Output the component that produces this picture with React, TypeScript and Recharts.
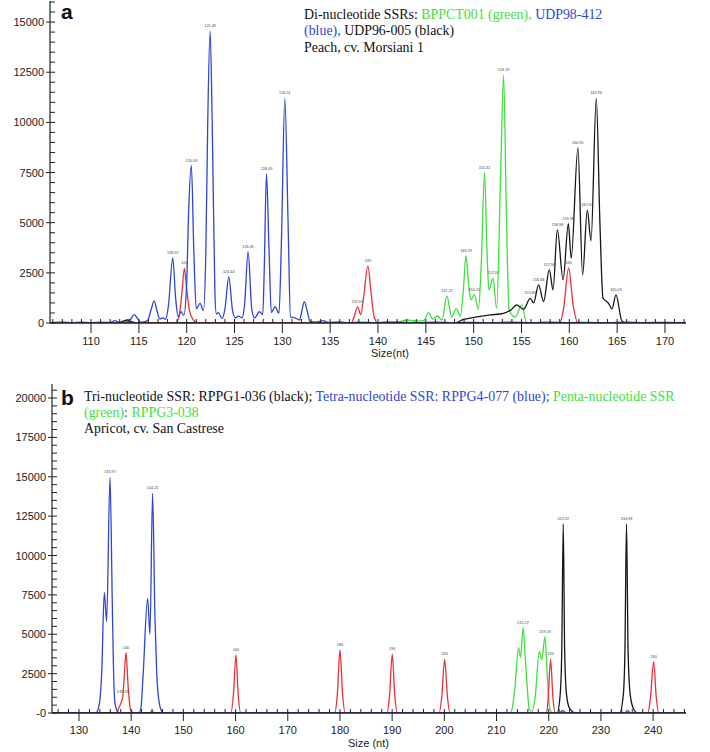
import React from "react";
import { LineChart, Line, XAxis, YAxis, LabelList } from "recharts";

type P = [number, number, string?];

// ---------- Panel a (Peach, cv. Morsiani 1) ----------
const blueA: P[] = [
  [105.8, 20], [107, 40], [108, 10], [109, 40], [110, 20], [111, 40], [112, 30], [112.5, 120], [113, 30],
  [113.8, 60], [114.1, 160], [114.5, 420], [114.9, 200], [115.2, 40], [115.9, 120], [116.3, 700],
  [116.6, 1100, ""], [116.9, 600], [117.2, 200], [117.5, 260], [117.8, 180], [118.1, 900],
  [118.54, 3250, "118.57"], [118.85, 1200], [119.1, 320], [119.4, 560], [119.7, 380], [120.0, 2000],
  [120.2, 5500], [120.49, 7850, "120.03"], [120.75, 3500], [121.0, 700], [121.4, 980], [121.75, 620],
  [122.0, 3500], [122.2, 10000], [122.45, 14550, "122.49"], [122.7, 9000], [122.95, 1500], [123.1, 450],
  [123.3, 520], [123.7, 220], [124.0, 700], [124.4, 2300, "124.44"], [124.8, 600], [125.1, 250],
  [125.4, 340], [125.8, 260], [126.05, 900], [126.42, 3560, "126.45"], [126.8, 700], [127.1, 250],
  [127.6, 560], [127.95, 420], [128.1, 2500], [128.34, 7450, "128.49"], [128.6, 3800], [128.85, 520],
  [129.25, 820], [129.65, 480], [129.9, 4000], [130.26, 11200, "130.51"], [130.6, 5000], [130.85, 300],
  [131.3, 260], [131.8, 150], [132.0, 500], [132.3, 1070], [132.6, 600], [132.9, 80], [133.5, 40],
  [134.3, 120], [134.8, 30], [136, 50], [137, 10], [138, 40], [140, 20], [142, 40], [144, 20], [146, 40],
  [148, 20], [150, 30], [152, 10], [154, 40], [156, 20], [158, 40], [160, 20], [162, 30], [164, 10],
  [166, 40], [168, 20], [170, 30], [172.2, 20],
];

const redA: P[] = [
  [105.8, 0], [118.8, 0], [119.2, 300], [119.5, 1500], [119.76, 2730, "120"], [120.0, 1700], [120.3, 600],
  [120.7, 150], [121.2, 0], [137.2, 0], [137.5, 300], [137.86, 800, "137.61"], [138.2, 420], [138.5, 1300],
  [138.94, 2850, "139"], [139.3, 1400], [139.6, 300], [140.0, 0], [159.0, 0], [159.4, 700],
  [159.93, 2730, "160"], [160.4, 900], [160.9, 0], [172.2, 0],
];

const greenA: P[] = [
  [105.8, 0], [140, 20], [141, 80], [142, 40], [143, 150], [144, 100], [144.8, 120], [145.29, 520],
  [145.7, 200], [146.2, 350], [146.7, 150], [147.2, 1350, "147.27"], [147.7, 300], [148.2, 720],
  [148.6, 350], [148.9, 1500], [149.2, 3350, "149.29"], [149.5, 1800], [149.72, 1150],
  [150.07, 1400, "150.15"], [150.5, 680], [150.8, 3000], [151.14, 7500, "151.32"], [151.4, 3500],
  [151.6, 1650], [152.02, 2230, "152.55"], [152.4, 730], [152.8, 7000], [153.13, 12350, "153.19"],
  [153.4, 6000], [153.7, 700], [154.0, 400], [154.35, 300], [155.04, 900], [155.5, 50], [156, 0],
  [172.2, 0],
];

const blackA: P[] = [
  [105.8, 0], [112.8, 0], [113.3, 80], [113.8, 150], [114.3, 60], [115, 0], [148, 0], [148.95, 180],
  [150.35, 300], [151.73, 400], [153.13, 480], [153.9, 650], [154.5, 900], [155.22, 680],
  [155.92, 1230, "155.83"], [156.27, 1000], [156.79, 1900, "156.84"], [157.31, 1070],
  [157.91, 2650, "157.90"], [158.3, 1650], [158.75, 4650, "158.96"], [159.35, 2150],
  [159.9, 4950, "159.98"], [160.2, 3230], [160.9, 8730, "160.91"], [161.39, 2400],
  [161.88, 5620, "161.94"], [162.27, 4100], [162.82, 11200, "162.96"], [163.2, 5000], [163.52, 1250],
  [164.1, 980], [164.46, 700], [164.88, 1400, "165.05"], [165.5, 100], [166, 0], [172.2, 0],
];

// ---------- Panel b (Apricot, cv. San Castrese) ----------
const blueB: P[] = [
  [124.8, 0], [133.2, 0], [133.8, 400], [134.35, 2540], [134.85, 7660], [135.3, 5800],
  [135.94, 14960, "135.97"], [136.38, 7000], [136.6, 3000], [136.9, 600], [137.5, 50], [138, 0],
  [141.5, 0], [141.9, 400], [142.3, 2500], [143.15, 7280], [143.6, 5000], [144.1, 13950, "144.25"],
  [144.56, 6000], [144.9, 2500], [145.4, 600], [146.0, 50], [146.5, 0], [222, 0], [222.7, 150],
  [223.3, 0], [234.5, 0], [235.1, 150], [235.7, 0], [246.3, 0],
];

const redB: P[] = [
  [124.8, 0], [137.2, 0], [137.6, 300], [138.0, 600], [138.37, 1000, "139.19"], [138.7, 2500],
  [139.0, 3830, "140"], [139.45, 1500], [139.9, 200], [140.5, 0], [159.1, 0], [159.6, 1200],
  [160.08, 3680, "160"], [160.5, 1200], [161.0, 0], [179.0, 0], [179.5, 1200], [180.0, 4000, "180"],
  [180.5, 1200], [181.0, 0], [189.0, 0], [189.5, 1100], [190.02, 3730, "190"], [190.5, 1100],
  [191.0, 0], [199.0, 0], [199.5, 1000], [200.06, 3410, "200"], [200.6, 1000], [201.1, 0], [219.6, 0],
  [219.9, 1000], [220.36, 3410, "220"], [220.8, 1000], [221.3, 0], [239.0, 0], [239.5, 1000],
  [240.1, 3260, "240"], [240.6, 1000], [241.1, 0], [246.3, 0],
];

const greenB: P[] = [
  [124.8, 0], [143.5, 0], [144, 150], [144.5, 0], [212.6, 0], [213.0, 300], [213.5, 1500],
  [214.2, 4150], [214.6, 3530], [215.1, 5420, "215.17"], [215.5, 3500], [215.8, 2000], [216.3, 200],
  [216.8, 100], [217.4, 1000], [218.2, 3900], [218.65, 3400], [219.3, 4850, "219.19"], [219.7, 2500],
  [220.2, 300], [220.7, 0], [246.3, 0],
];

const blackB: P[] = [
  [124.8, 0], [221.6, 0], [222.2, 1200], [222.5, 4000], [222.78, 12000, "222.92"], [223.05, 4000],
  [223.4, 1200], [224.0, 300], [225.2, 0], [233.6, 0], [234.3, 1200], [234.6, 4000],
  [234.9, 12000, "234.98"], [235.2, 4000], [235.6, 1200], [236.2, 300], [237, 0], [246.3, 0],
];

// ---------- ticks ----------
const xMajorA = [110, 115, 120, 125, 130, 135, 140, 145, 150, 155, 160, 165, 170];
const xMajorB = [130, 140, 150, 160, 170, 180, 190, 200, 210, 220, 230, 240];
const yMajorA = [0, 2500, 5000, 7500, 10000, 12500, 15000];
const yMajorB = [0, 2500, 5000, 7500, 10000, 12500, 15000, 17500, 20000];

const range = (a: number, b: number, s: number) => {
  const out: number[] = [];
  for (let v = a; v <= b + 1e-9; v += s) out.push(v);
  return out;
};
const xTicksA = range(106, 172, 1);
const xTicksB = range(126, 246, 2);
const yTicksA = range(0, 16000, 500);
const yTicksB = range(0, 20500, 500);

const C_BLUE = "#2f45d6";
const C_GREEN = "#3fe03f";
const C_RED = "#e8323a";
const C_BLACK = "#161616";
const AXIS = "#222";
const FRAME = "#555";
const SANS = "'Liberation Sans', Arial, sans-serif";
const SERIF = "'Liberation Serif', 'Times New Roman', serif";

const toPts = (arr: P[]) => arr.map(([x, y, l]) => ({ x, y, l: l || "" }));

const makeYTick = (majors: number[], fmt: (v: number) => string) => (props: any) => {
  const { x, y, payload } = props;
  const v = payload.value;
  const major = majors.includes(v);
  return (
    <g>
      <line x1={major ? x - 4 : x} x2={x + 5} y1={y} y2={y} stroke={AXIS} strokeWidth={1} />
      {major && (
        <text x={x - 6} y={y} dy={4} textAnchor="end" fontSize={11} fontFamily={SANS} fill={AXIS}>
          {fmt(v)}
        </text>
      )}
    </g>
  );
};

const makeXTick = (majors: number[], down: number, labelDy: number) => (props: any) => {
  const { x, y, payload } = props;
  const v = payload.value;
  const major = majors.includes(v);
  return (
    <g>
      <line x1={x} x2={x} y1={y - 4} y2={major ? y + down : y} stroke={AXIS} strokeWidth={1} />
      {major && (
        <text x={x} y={y + labelDy} textAnchor="middle" fontSize={11} fontFamily={SANS} fill={AXIS}>
          {v}
        </text>
      )}
    </g>
  );
};

const PeakLabel = (props: any) => {
  const { x, y, value } = props;
  if (!value) return null;
  return (
    <text x={x} y={y - 4} textAnchor="middle" fontSize={3.8} fontFamily={SANS} fill="#444">
      {value}
    </text>
  );
};

const series = (list: { d: P[]; c: string; k: string }[]) =>
  list.map((s) => (
    <Line
      key={s.k}
      data={toPts(s.d)}
      dataKey="y"
      xAxisId="b"
      yAxisId="l"
      type="monotone"
      stroke={s.c}
      strokeWidth={1.3}
      dot={false}
      activeDot={false}
      isAnimationActive={false}
    >
      <LabelList dataKey="l" content={<PeakLabel />} />
    </Line>
  ));

const PanelChart = (p: {
  width: number;
  height: number;
  top: number;
  xAxisH: number;
  yAxisW: number;
  xDomain: [number, number];
  yDomain: [number, number];
  xTicks: number[];
  yTicks: number[];
  xTick: any;
  yTick: any;
  lines: { d: P[]; c: string; k: string }[];
}) => (
  <LineChart width={p.width} height={p.height} margin={{ top: p.top, right: 24, bottom: 0, left: 0 }}>
    <XAxis
      xAxisId="b"
      type="number"
      dataKey="x"
      domain={p.xDomain}
      allowDataOverflow
      ticks={p.xTicks}
      interval={0}
      tick={p.xTick}
      tickLine={false}
      tickSize={0}
      tickMargin={0}
      height={p.xAxisH}
      axisLine={{ stroke: AXIS, strokeWidth: 1.5 }}
    />
    <XAxis
      xAxisId="t"
      orientation="top"
      type="number"
      domain={p.xDomain}
      allowDataOverflow
      tick={false}
      tickLine={false}
      height={0}
      axisLine={{ stroke: FRAME, strokeWidth: 1.5 }}
    />
    <YAxis
      yAxisId="l"
      type="number"
      domain={p.yDomain}
      allowDataOverflow
      ticks={p.yTicks}
      interval={0}
      tick={p.yTick}
      tickLine={false}
      tickSize={0}
      tickMargin={0}
      width={p.yAxisW}
      axisLine={{ stroke: AXIS, strokeWidth: 1.2 }}
    />
    <YAxis
      yAxisId="r"
      orientation="right"
      type="number"
      domain={p.yDomain}
      allowDataOverflow
      tick={false}
      tickLine={false}
      width={0}
      axisLine={{ stroke: FRAME, strokeWidth: 1.5 }}
    />
    {series(p.lines)}
  </LineChart>
);

export default function App() {
  return (
    <div style={{ position: "absolute", left: 0, top: 0, width: 710, height: 752, background: "#fff" }}>
      <div style={{ position: "absolute", left: 0, top: 0 }}>
        <PanelChart
          width={710}
          height={365}
          top={1}
          xAxisH={42}
          yAxisW={50}
          xDomain={[105.71, 172.2]}
          yDomain={[0, 16050]}
          xTicks={xTicksA}
          yTicks={yTicksA}
          xTick={makeXTick(xMajorA, 10, 21.5)}
          yTick={makeYTick(yMajorA, (v) => String(v))}
          lines={[
            { d: greenA, c: C_GREEN, k: "g" },
            { d: blackA, c: C_BLACK, k: "k" },
            { d: redA, c: C_RED, k: "r" },
            { d: blueA, c: C_BLUE, k: "bl" },
          ]}
        />
      </div>
      <div style={{ position: "absolute", left: 0, top: 365 }}>
        <PanelChart
          width={710}
          height={387}
          top={19}
          xAxisH={39}
          yAxisW={52}
          xDomain={[124.83, 246.3]}
          yDomain={[0, 20890]}
          xTicks={xTicksB}
          yTicks={yTicksB}
          xTick={makeXTick(xMajorB, 8, 21)}
          yTick={makeYTick(yMajorB, (v) => (v === 0 ? "-0" : String(v)))}
          lines={[
            { d: greenB, c: C_GREEN, k: "g" },
            { d: redB, c: C_RED, k: "r" },
            { d: blackB, c: C_BLACK, k: "k" },
            { d: blueB, c: C_BLUE, k: "bl" },
          ]}
        />
      </div>
      <svg
        width={710}
        height={752}
        style={{ position: "absolute", left: 0, top: 0, pointerEvents: "none" }}
      >
        <text x={61} y={18.5} fontSize={21} fontWeight="bold" fontFamily={SANS} fill="#111">a</text>
        <text fontSize={13.9} fontFamily={SERIF} fill="#111">
          <tspan x={304} y={19}>Di-nucleotide SSRs: </tspan>
          <tspan fill={C_GREEN}>BPPCT001 (green), </tspan>
          <tspan fill={C_BLUE}>UDP98-412</tspan>
          <tspan x={304} y={35.3} fill={C_BLUE}>(blue), </tspan>
          <tspan>UDP96-005 (black)</tspan>
          <tspan x={304} y={51.6}>Peach,  cv. Morsiani 1</tspan>
        </text>
        <text x={371} y={357} fontSize={11} fontFamily={SANS} fill={AXIS}>Size(nt)</text>

        <text x={61} y={405} fontSize={21} fontWeight="bold" fontFamily={SANS} fill="#111">b</text>
        <text fontSize={13.9} fontFamily={SERIF} fill="#111">
          <tspan x={84} y={400.7}>Tri-nucleotide SSR: RPPG1-036 (black); </tspan>
          <tspan fill={C_BLUE}>Tetra-nucleotide SSR: RPPG4-077 (blue); </tspan>
          <tspan fill={C_GREEN}>Penta-nucleotide SSR</tspan>
          <tspan x={84} y={417} fill={C_GREEN}>(green)</tspan>
          <tspan fill={C_BLUE}>: </tspan>
          <tspan fill={C_GREEN}>RPPG3-038</tspan>
          <tspan x={84} y={433.3}>Apricot, cv. San Castrese</tspan>
        </text>
        <text x={348} y={747} fontSize={11} fontFamily={SANS} fill={AXIS}>Size (nt)</text>
      </svg>
    </div>
  );
}
